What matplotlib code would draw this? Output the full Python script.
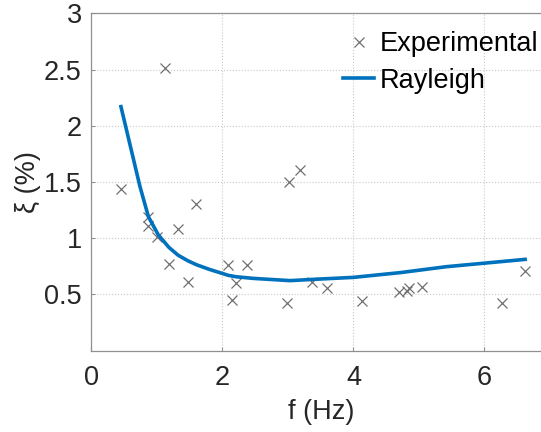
import matplotlib
matplotlib.use("Agg")
from matplotlib import pyplot as plt

# experimental damping ratios
exp_f = [0.45, 0.87, 0.87, 1.00, 1.13, 1.18, 1.32, 1.47, 1.60, 2.09, 2.15, 2.20, 2.38,
         2.99, 3.02, 3.19, 3.36, 3.60, 4.13, 4.70, 4.81, 4.85, 5.05, 6.26, 6.62]
exp_xi = [1.44, 1.19, 1.11, 1.01, 2.51, 0.77, 1.08, 0.61, 1.30, 0.76, 0.45, 0.60, 0.76,
          0.42, 1.50, 1.61, 0.61, 0.56, 0.44, 0.52, 0.53, 0.56, 0.57, 0.42, 0.71]

# Rayleigh fit curve
ray_f = [0.45, 0.74, 0.87, 1.02, 1.18, 1.32, 1.47, 1.60, 1.80, 2.09, 2.20, 2.47, 3.03,
         3.38, 4.00, 4.71, 5.42, 6.62]
ray_xi = [2.17, 1.46, 1.19, 1.03, 0.92, 0.85, 0.80, 0.765, 0.723, 0.67, 0.658, 0.643,
          0.623, 0.634, 0.652, 0.694, 0.747, 0.812]

plt.rcParams["font.family"] = ["Liberation Sans", "DejaVu Sans"]

fig = plt.figure(figsize=(5.41, 4.32), dpi=100)
ax = fig.add_axes([0.1691, 0.1882, 0.8475, 0.781])

ax.plot(exp_f, exp_xi, "x", color="#707070", markersize=7, markeredgewidth=0.9,
        label="Experimental")
ax.plot(ray_f, ray_xi, "-", color="#0072BD", linewidth=2.6, label="Rayleigh")

ax.set_xlim(0, 7)
ax.set_ylim(0, 3)
ax.set_xticks([0, 2, 4, 6])
ax.set_yticks([0.5, 1, 1.5, 2, 2.5, 3])
ax.set_yticklabels(["0.5", "1", "1.5", "2", "2.5", "3"])
ax.grid(True, linestyle=":", color="#c8c8c8", linewidth=0.8)
ax.tick_params(direction="in", length=3, color="#909090", labelsize=19.5,
               labelcolor="#262626")
ax.tick_params(axis="x", pad=10)
ax.tick_params(axis="y", pad=7)
for s in ax.spines.values():
    s.set_color("#909090")
    s.set_linewidth(0.9)

ax.set_xlabel("f (Hz)", fontsize=19.5, color="#262626", labelpad=6)
ax.set_ylabel("ξ (%)", fontsize=19.5, color="#262626", labelpad=2)

ax.legend(loc="upper right", bbox_to_anchor=(1.0, 0.934), bbox_transform=fig.transFigure,
          frameon=False, fontsize=19.5, handlelength=1.15, handletextpad=0.2,
          labelspacing=0.38, borderaxespad=0, borderpad=0.1)

plt.savefig("out.png", dpi=100)
